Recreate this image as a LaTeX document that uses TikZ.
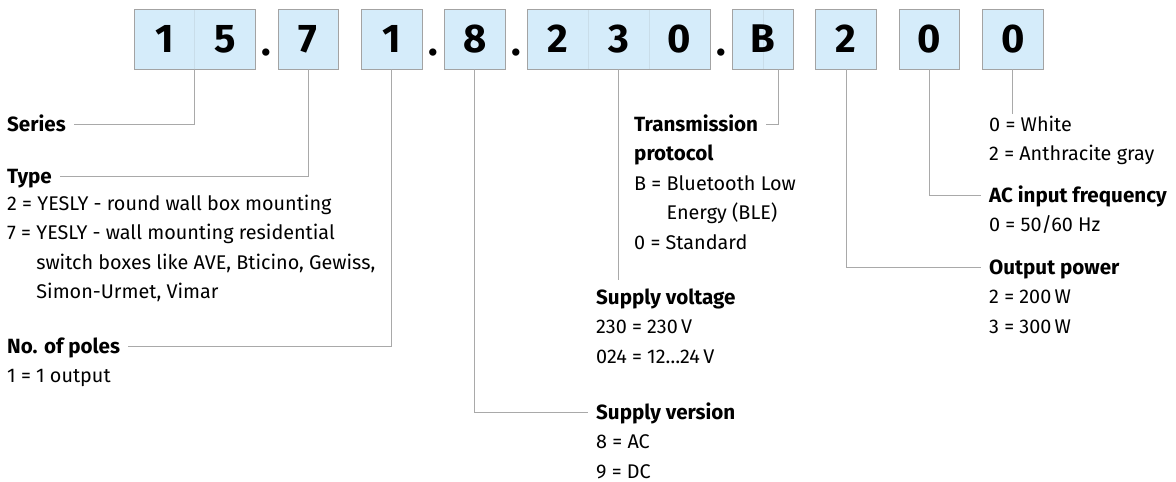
\documentclass[tikz,border=0pt]{standalone}
\usepackage{fontspec}
\setmainfont{Fira Sans}
\usetikzlibrary{positioning, calc}

\definecolor{cellblue}{HTML}{D5ECFA}
\definecolor{cellrule}{HTML}{A3A3A3}
\definecolor{celldiv}{HTML}{C9DDE9}
\definecolor{leadgray}{HTML}{A9A9A9}

\newcommand{\digitcell}[1]{\makebox[60.7pt]{#1}}
\newcommand{\vallist}[1]{\begin{tabular}[t]{@{}l@{}}#1\end{tabular}}

\begin{document}
\begin{tikzpicture}[x=1pt, y=-1pt,
    cell/.style={rectangle, draw=cellrule, line width=1pt, fill=cellblue,
                 minimum height=60pt, inner sep=0pt, outer sep=0pt,
                 font=\fontsize{40}{40}\selectfont\bfseries},
    divided/.style={path picture={
        \foreach \f in {#1}
          \draw[divider] ($(path picture bounding box.north west)!\f!(path picture bounding box.north east)$)
                      -- ($(path picture bounding box.south west)!\f!(path picture bounding box.south east)$);}},
    dotsep/.style={inner sep=0pt, anchor=base,
                   font=\fontsize{40}{40}\selectfont\bfseries},
    divider/.style={draw=celldiv, line width=0.7pt},
    head/.style={anchor=base west, inner sep=0pt, text height=14pt, text depth=0pt,
                 font=\fontsize{20.6}{29.5}\selectfont\bfseries},
    desc/.style={anchor=base west, inner sep=0pt,
                 font=\fontsize{19.8}{29.5}\selectfont},
    lead/.style={draw=leadgray, line width=1pt, shorten >=8pt},
  ]
  \useasboundingbox (0,0) rectangle (1176,482);

  % ---- code boxes ------------------------------------------------
  \node[cell, divided={0.5}, anchor=north west] (b15) at (134,9) {\digitcell{1}\digitcell{5}};
  \node[cell, right=22.6pt of b15] (b7) {\digitcell{7}};
  \node[cell, right=22.6pt of b7] (b1) {\digitcell{1}};
  \node[cell, right=22.6pt of b1] (b8) {\digitcell{8}};
  \node[cell, divided={1/3,2/3}, right=22.6pt of b8] (b230) {\digitcell{2}\digitcell{3}\digitcell{0}};
  \node[cell, divided={0.5}, right=22.6pt of b230] (bB) {\digitcell{B}};
  \node[cell, right=22.6pt of bB] (b2) {\digitcell{2}};
  \node[cell, right=22.6pt of b2] (b0a) {\digitcell{0}};
  \node[cell, right=22.6pt of b0a] (b0b) {\digitcell{0}};

  % ---- separating dots -------------------------------------------
  \node[dotsep] (d1) at ($(b15.south east)!0.5!(b7.south west)+(0,-14)$) {.};
  \node[dotsep] (d2) at ($(b1.south east)!0.5!(b8.south west)+(0,-14)$) {.};
  \node[dotsep] (d3) at ($(b8.south east)!0.5!(b230.south west)+(0,-14)$) {.};
  \node[dotsep] (d4) at ($(b230.south east)!0.5!(bB.south west)+(0,-14)$) {.};

  % ---- left labels -----------------------------------------------
  \node[head] (series) at (7,131) {Series};
  \node[head] (type) at (7,183) {Type};
  \node[desc] (typeval) at ([yshift=-27pt]type.base west)
    {\vallist{2 = YESLY - round wall box mounting\\
              7 = YESLY - wall mounting residential\\
              \phantom{7 = }switch boxes like AVE, Bticino, Gewiss,\\
              \phantom{7 = }Simon-Urmet, Vimar}};
  \node[head] (poles) at (7,353) {No. of poles};
  \node[desc] (polesval) at ([yshift=-29.5pt]poles.base west) {1 = 1 output};

  % ---- middle labels ---------------------------------------------
  \node[head] (trans) at (634,131) {Transmission};
  \node[desc] (transval) at ([yshift=-29.5pt]trans.base west)
    {\vallist{\fontsize{20.6}{29.5}\selectfont\textbf{protocol}\\
              B = Bluetooth Low\\
              \phantom{B = }Energy (BLE)\\
              0 = Standard}};
  \node[head] (svolt) at (596,304) {Supply voltage};
  \node[desc] (svoltval) at ([yshift=-29.5pt]svolt.base west)
    {\vallist{230 = 230\,V\\024 = 12…24\,V}};
  \node[head] (sver) at (596,419) {Supply version};
  \node[desc] (sverval) at ([yshift=-29.5pt]sver.base west) {\vallist{8 = AC\\9 = DC}};

  % ---- right labels ----------------------------------------------
  \node[desc] (colour) at (989,131) {\vallist{0 = White\\2 = Anthracite gray}};
  \node[head] (acin) at (989,202) {AC input frequency};
  \node[desc] (acinval) at ([yshift=-29.5pt]acin.base west) {0 = 50/60 Hz};
  \node[head] (outp) at (989,274) {Output power};
  \node[desc] (outpval) at ([yshift=-29.5pt]outp.base west) {\vallist{2 = 200\,W\\3 = 300\,W}};

  % ---- leader lines ----------------------------------------------
  \draw[lead] (b15.south) |- (series.east);
  \draw[lead] (b7.south) |- (type.east);
  \draw[lead] (b1.south) |- (poles.east);
  \draw[lead] (b8.south) |- (sver.west);
  \draw[lead, shorten >=10pt] (b230.south) -- (b230.south |- svolt.north);
  \draw[lead] ($(bB.south west)!0.75!(bB.south east)$) |- (trans.east);
  \draw[lead] (b2.south) |- (outp.west);
  \draw[lead] (b0a.south) |- (acin.west);
  \draw[lead, shorten >=0pt] (b0b.south) -- ([yshift=-4pt]b0b.south |- colour.north);

\end{tikzpicture}
\end{document}
